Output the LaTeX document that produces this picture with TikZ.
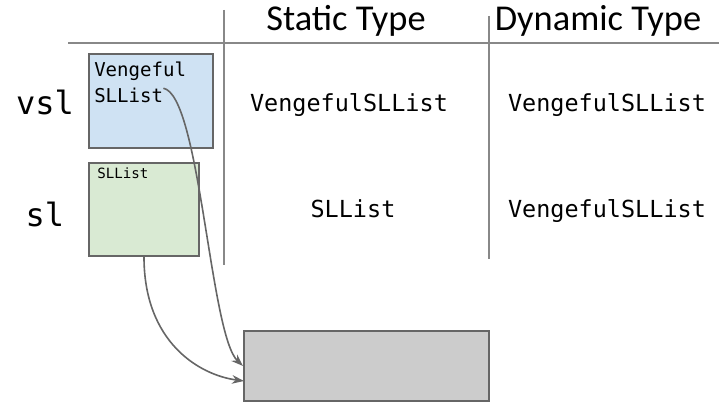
\documentclass[tikz,border=0pt]{standalone}
\usepackage{fontspec}
\setmainfont{Carlito}
\setmonofont{DejaVu Sans Mono}
\usetikzlibrary{arrows.meta, positioning}
\definecolor{vslblue}{HTML}{CFE2F3}
\definecolor{slgreen}{HTML}{D9EAD3}
\definecolor{objgray}{HTML}{CCCCCC}
\definecolor{edgegray}{HTML}{666666}
\definecolor{gridgray}{HTML}{888888}
\tikzstyle{varbox} = [rectangle, draw=edgegray, line width=1.5pt]
\tikzstyle{heading} = [anchor=base, inner sep=0pt, font=\fontsize{27.3}{32}\selectfont]
\tikzstyle{typename} = [anchor=base, inner sep=0pt, font=\ttfamily\fontsize{17.6}{20}\selectfont]
\tikzstyle{varname} = [anchor=base, inner sep=0pt, font=\ttfamily\fontsize{24}{28}\selectfont]
\tikzstyle{tag} = [anchor=base west, inner sep=0pt, font=\ttfamily\fontsize{14.3}{19.5}\selectfont]
\tikzstyle{gridline} = [draw=gridgray, line width=1.5pt]
\tikzstyle{pointer} = [draw=edgegray, line width=1.2pt, -{Stealth[length=9pt,width=6.5pt]}]

\begin{document}
\begin{tikzpicture}[x=0.75pt, y=-0.75pt]
\useasboundingbox (0,0) rectangle (719,402);

% table
\draw [gridline] (68,43) -- (719,43);
\draw [gridline] (224,10) -- (224,265);
\draw [gridline] (489,16) -- (489,259);

\node (static) [heading] at (346,31) {Static Type};
\node (dynamic) [heading] at (598,31) {Dynamic Type};

\node (vslname) [varname] at (45,115) {vsl};
\node (slname) [varname] at (45,227) {sl};

\node (vslstatic) [typename] at (349,112) {VengefulSLList};
\node (vsldynamic) [typename] at (607,112) {VengefulSLList};
\node (slstatic) [typename] at (353,218) {SLList};
\node (sldynamic) [typename] at (607,218) {VengefulSLList};

% boxes
\node (vslbox) [varbox, fill=vslblue, minimum width=93pt, minimum height=70.5pt] at (151,101) {};
\node (slbox) [varbox, fill=slgreen, minimum width=82.5pt, minimum height=69.75pt] at (144,209.5) {};
\node (obj) [varbox, fill=objgray, minimum width=183.75pt, minimum height=52.5pt] at (366.5,366) {};

\node (vslkind) [tag] at (94,77) {Vengeful};
\node (vsltype) [tag] at (94,103) {SLList};
\node (sltype) [tag, font=\ttfamily\fontsize{10.6}{12}\selectfont] at (97,179) {SLList};

% pointers
\coordinate (objin) at (244,381);
\draw [pointer] (vsltype.north east) .. controls (200,95) and (210,335) .. (obj.west);
\draw [pointer] (slbox.south) .. controls +(0,85) and +(-45,-6) .. (objin);

\end{tikzpicture}
\end{document}
